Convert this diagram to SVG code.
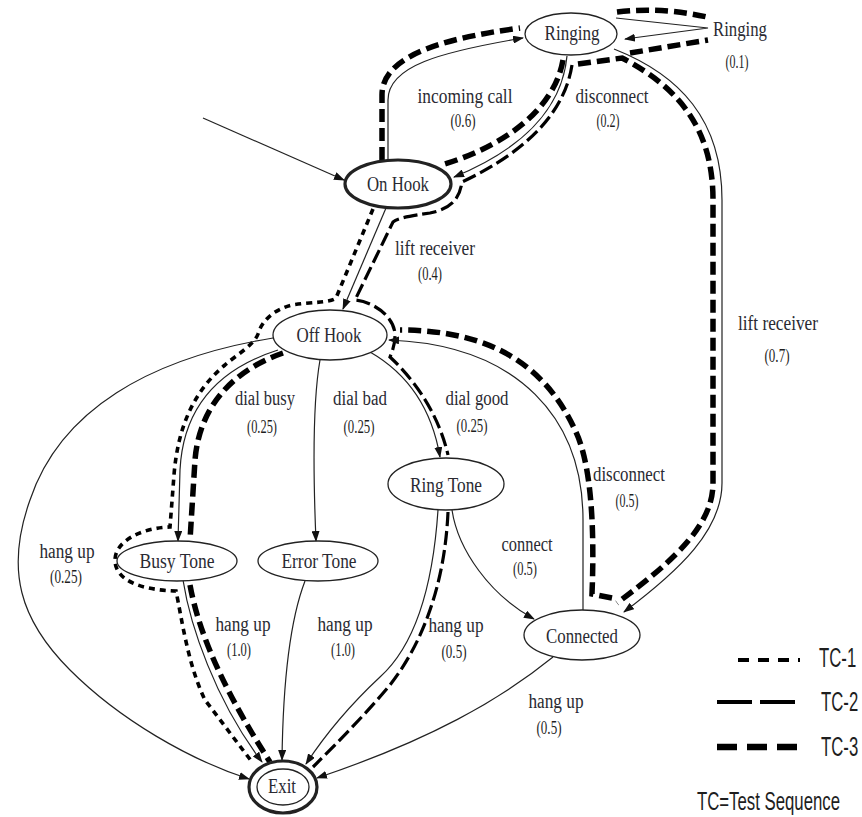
<svg xmlns="http://www.w3.org/2000/svg" width="862" height="817" viewBox="0 0 862 817">
  <defs>
    <marker id="arrow" markerWidth="11" markerHeight="8" refX="10" refY="4" orient="auto" markerUnits="userSpaceOnUse">
      <path d="M0,0 L11,4 L0,8 z" fill="#111"/>
    </marker>
    <style>
      .node { fill: #fff; stroke: #222; stroke-width: 1.3; }
      .bold { stroke-width: 3.2; }
      .edge { fill: none; stroke: #222; stroke-width: 1.2; marker-end: url(#arrow); }
      .tc1 { fill: none; stroke: #000; stroke-width: 3.6; stroke-dasharray: 6 5; }
      .tc2 { fill: none; stroke: #000; stroke-width: 3.2; stroke-dasharray: 14 5; }
      .tc3 { fill: none; stroke: #000; stroke-width: 5.5; stroke-dasharray: 13 6; }
      .lbl { font-family: "Liberation Serif", "Times New Roman", serif; font-size: 20px; fill: #2a2a32; text-anchor: middle; }
      .num { font-family: "Liberation Serif", "Times New Roman", serif; font-size: 19.5px; fill: #1e1e1e; text-anchor: middle; }
      .leg { font-family: "Liberation Sans", Arial, sans-serif; font-size: 27px; fill: #1e1e1e; }
    </style>
  </defs>

  <rect width="862" height="817" fill="#fff"/>

  <!-- test-sequence traces -->
  <g id="traces">
    <!-- TC-3 -->
    <path class="tc3" d="M 382 160 L 382 95 C 382 60, 430 40, 520 28"/>
    <path class="tc3" d="M 617 12 C 650 8, 680 11, 707 17"/>
    <path class="tc3" d="M 630 53 L 708 40"/>
    <path class="tc3" d="M 563 60 C 556 100, 520 140, 445 164"/>
    <path class="tc3" d="M 578 64 L 622 58 C 680 88, 713 130, 713 200 L 713 483 C 713 525, 675 560, 617 603"/>
    <path class="tc3" d="M 612 598 L 592 594 C 595 520, 590 460, 575 430 C 545 365, 490 330, 400 330"/>
    <path class="tc3" d="M 283 353 C 240 368, 200 400, 195 460 L 190 540"/>
    <path class="tc3" d="M 190 585 C 200 640, 230 700, 270 762"/>
    <!-- TC-2 -->
    <path class="tc2" d="M 572 65 C 565 110, 530 150, 462 182 C 460 195, 455 208, 430 213 C 410 216, 398 218, 393 222 L 355 300 C 375 302, 395 318, 395 335 C 395 345, 392 352, 390 357 C 420 385, 440 420, 448 455"/>
    <path class="tc2" d="M 448 512 C 445 580, 425 640, 390 685 C 365 715, 335 745, 313 767"/>
    <!-- TC-1 -->
    <path class="tc1" d="M 373 209 L 336 298 C 330 303, 310 302, 292 305 C 275 309, 262 320, 258 334 C 254 345, 235 356, 225 365 C 195 390, 178 425, 174 475 L 170 527 C 140 528, 115 542, 115 560 C 115 580, 140 590, 176 591 C 182 620, 188 665, 205 700 L 252 762"/>
  </g>

  <!-- transitions -->
  <g id="connectors">
    <path class="edge" d="M 203 118 L 344 180"/>
    <path class="edge" d="M 388 161 L 388 100 C 388 66, 440 52, 523 38"/>
    <path class="edge" d="M 616 18 L 708 28 L 625 39"/>
    <path class="edge" d="M 567 56 C 562 110, 520 150, 454 177"/>
    <path class="edge" d="M 614 49 C 680 75, 722 120, 722 200 L 722 483 C 722 530, 680 570, 624 612"/>
    <path class="edge" d="M 386 208 L 343 309"/>
    <path class="edge" d="M 273 338 C 150 358, 60 410, 30 500 C 5 570, 20 620, 70 670 C 120 720, 190 760, 249 779"/>
    <path class="edge" d="M 278 350 C 215 370, 183 410, 180 470 L 178 541"/>
    <path class="edge" d="M 320 360 C 313 400, 313 470, 316 541"/>
    <path class="edge" d="M 370 352 C 410 375, 432 410, 440 457"/>
    <path class="edge" d="M 583 610 L 583 520 C 583 420, 520 345, 389 340"/>
    <path class="edge" d="M 452 510 C 458 550, 490 595, 534 619"/>
    <path class="edge" d="M 183 580 C 190 625, 215 700, 262 762"/>
    <path class="edge" d="M 305 581 C 290 620, 283 680, 282 760"/>
    <path class="edge" d="M 438 510 C 432 600, 410 650, 380 677 C 350 705, 325 735, 306 764"/>
    <path class="edge" d="M 553 657 C 500 700, 430 740, 317 778"/>
  </g>

  <!-- transition labels -->
  <g id="edge-labels">
    <text class="lbl" x="740" y="36" textLength="54" lengthAdjust="spacingAndGlyphs">Ringing</text>
    <text class="num" x="737" y="68" textLength="23" lengthAdjust="spacingAndGlyphs">(0.1)</text>
    <text class="lbl" x="465" y="103" textLength="95" lengthAdjust="spacingAndGlyphs">incoming call</text>
    <text class="num" x="463" y="127" textLength="25" lengthAdjust="spacingAndGlyphs">(0.6)</text>
    <text class="lbl" x="612" y="103" textLength="73" lengthAdjust="spacingAndGlyphs">disconnect</text>
    <text class="num" x="608" y="127" textLength="23" lengthAdjust="spacingAndGlyphs">(0.2)</text>
    <text class="lbl" x="435" y="255" textLength="80" lengthAdjust="spacingAndGlyphs">lift receiver</text>
    <text class="num" x="430" y="280" textLength="24" lengthAdjust="spacingAndGlyphs">(0.4)</text>
    <text class="lbl" x="265" y="405" textLength="60" lengthAdjust="spacingAndGlyphs">dial busy</text>
    <text class="num" x="262" y="433" textLength="30" lengthAdjust="spacingAndGlyphs">(0.25)</text>
    <text class="lbl" x="360" y="405" textLength="54" lengthAdjust="spacingAndGlyphs">dial bad</text>
    <text class="num" x="359" y="433" textLength="31" lengthAdjust="spacingAndGlyphs">(0.25)</text>
    <text class="lbl" x="477" y="405" textLength="63" lengthAdjust="spacingAndGlyphs">dial good</text>
    <text class="num" x="472" y="432" textLength="31" lengthAdjust="spacingAndGlyphs">(0.25)</text>
    <text class="lbl" x="629" y="481" textLength="72" lengthAdjust="spacingAndGlyphs">disconnect</text>
    <text class="num" x="627" y="507" textLength="23" lengthAdjust="spacingAndGlyphs">(0.5)</text>
    <text class="lbl" x="778" y="330" textLength="80" lengthAdjust="spacingAndGlyphs">lift receiver</text>
    <text class="num" x="777" y="362" textLength="25" lengthAdjust="spacingAndGlyphs">(0.7)</text>
    <text class="lbl" x="527" y="551" textLength="51" lengthAdjust="spacingAndGlyphs">connect</text>
    <text class="num" x="525" y="575" textLength="24" lengthAdjust="spacingAndGlyphs">(0.5)</text>
    <text class="lbl" x="67" y="558" textLength="55" lengthAdjust="spacingAndGlyphs">hang up</text>
    <text class="num" x="66" y="583" textLength="32" lengthAdjust="spacingAndGlyphs">(0.25)</text>
    <text class="lbl" x="243" y="631" textLength="55" lengthAdjust="spacingAndGlyphs">hang up</text>
    <text class="num" x="239" y="656" textLength="24" lengthAdjust="spacingAndGlyphs">(1.0)</text>
    <text class="lbl" x="345" y="631" textLength="55" lengthAdjust="spacingAndGlyphs">hang up</text>
    <text class="num" x="343" y="656" textLength="24" lengthAdjust="spacingAndGlyphs">(1.0)</text>
    <text class="lbl" x="456" y="632" textLength="55" lengthAdjust="spacingAndGlyphs">hang up</text>
    <text class="num" x="454" y="658" textLength="25" lengthAdjust="spacingAndGlyphs">(0.5)</text>
    <text class="lbl" x="556" y="708" textLength="55" lengthAdjust="spacingAndGlyphs">hang up</text>
    <text class="num" x="549" y="734" textLength="25" lengthAdjust="spacingAndGlyphs">(0.5)</text>
  </g>

  <!-- states -->
  <g id="ringing">
    <ellipse class="node" cx="571" cy="34" rx="46" ry="21"/>
    <text class="lbl" x="572" y="40" textLength="55" lengthAdjust="spacingAndGlyphs">Ringing</text>
  </g>
  <g id="on-hook">
    <ellipse class="node bold" cx="398" cy="184" rx="53" ry="24"/>
    <text class="lbl" x="398" y="191" textLength="62" lengthAdjust="spacingAndGlyphs">On Hook</text>
  </g>
  <g id="off-hook">
    <ellipse class="node" cx="330" cy="335" rx="57" ry="25"/>
    <text class="lbl" x="329" y="342" textLength="65" lengthAdjust="spacingAndGlyphs">Off Hook</text>
  </g>
  <g id="busy-tone">
    <ellipse class="node" cx="177" cy="561" rx="60" ry="20"/>
    <text class="lbl" x="177" y="568" textLength="75" lengthAdjust="spacingAndGlyphs">Busy Tone</text>
  </g>
  <g id="error-tone">
    <ellipse class="node" cx="318" cy="561" rx="60" ry="20"/>
    <text class="lbl" x="319" y="568" textLength="75" lengthAdjust="spacingAndGlyphs">Error Tone</text>
  </g>
  <g id="ring-tone">
    <ellipse class="node" cx="446" cy="484" rx="58" ry="26"/>
    <text class="lbl" x="446" y="492" textLength="72" lengthAdjust="spacingAndGlyphs">Ring Tone</text>
  </g>
  <g id="connected">
    <ellipse class="node" cx="582" cy="635" rx="58" ry="25"/>
    <text class="lbl" x="582" y="643" textLength="72" lengthAdjust="spacingAndGlyphs">Connected</text>
  </g>
  <g id="exit">
    <ellipse class="node bold" cx="283" cy="787" rx="34" ry="26"/>
    <ellipse class="node" cx="283" cy="787" rx="26" ry="18"/>
    <text class="lbl" x="282" y="793" textLength="28" lengthAdjust="spacingAndGlyphs">Exit</text>
  </g>

  <!-- legend -->
  <g id="legend">
    <line class="tc1" x1="738" y1="660" x2="800" y2="660" style="stroke-width:4.2;stroke-dasharray:11 9"/>
    <line class="tc2" x1="717" y1="702" x2="795" y2="702" style="stroke-width:4;stroke-dasharray:35 8"/>
    <line class="tc3" x1="717" y1="747" x2="798" y2="747" style="stroke-width:6.5;stroke-dasharray:20 10"/>
    <text class="leg" transform="translate(819,667) scale(0.62,1)">TC-1</text>
    <text class="leg" transform="translate(821,711) scale(0.62,1)">TC-2</text>
    <text class="leg" transform="translate(821,756) scale(0.62,1)">TC-3</text>
    <text class="leg" transform="translate(697,810) scale(0.645,1)" style="font-size:26px">TC=Test Sequence</text>
  </g>
</svg>
